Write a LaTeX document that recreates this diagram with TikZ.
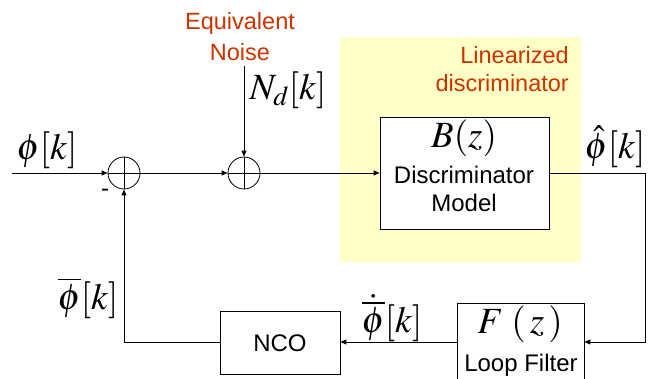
\documentclass[tikz,border=0pt]{standalone}
\usepackage{mathptmx}
\usepackage{fontspec}
\setmainfont{Liberation Sans}
\usetikzlibrary{arrows.meta}
\definecolor{noisered}{RGB}{204,51,0}
\definecolor{paleyellow}{RGB}{255,255,200}
\tikzset{
  wire/.style={line width=1pt},
  arr/.style={wire,-{Triangle[length=6pt,width=5pt]}},
  blockbox/.style={draw,line width=0.8pt,fill=white,inner sep=0pt},
  sumnode/.style={draw,line width=0.8pt,circle,minimum size=32pt,inner sep=0pt,
    path picture={\draw[line width=0.8pt] (path picture bounding box.north) -- (path picture bounding box.south)
      (path picture bounding box.west) -- (path picture bounding box.east);}},
  sanstext/.style={font=\fontsize{24}{28}\selectfont,inner sep=0pt},
  redtext/.style={font=\fontsize{23.5}{28}\selectfont,inner sep=0pt,text=noisered},
  mathlbl/.style={font=\fontsize{37}{40}\selectfont,inner sep=0pt}
}
\begin{document}
\begin{tikzpicture}[x=1pt,y=-1pt]
\useasboundingbox (0,0) rectangle (650,378);
% yellow region
\fill[paleyellow] (340,37) rectangle (581,262);
\node[redtext,anchor=east] (lin1) at (569,55) {Linearized};
\node[redtext,anchor=east] (lin2) at (569,83) {discriminator};
% blocks
\node[blockbox,minimum width=169pt,minimum height=112pt] (B) at (464.5,173) {};
\node[mathlbl] (Blbl) at (464,138) {$B(z)$};
\node[sanstext] (Bt1) at (464,175) {Discriminator};
\node[sanstext] (Bt2) at (464,203) {Model};
\node[blockbox,minimum width=127pt,minimum height=78pt] (F) at (520.5,342) {};
\node[mathlbl] (Flbl) at (520,324) {$F\;(\,z\,)$};
\node[sanstext] (Ft) at (521,365) {Loop Filter};
\node[blockbox,minimum width=120pt,minimum height=63pt] (NCO) at (280,342.5) {};
\node[sanstext] (NCOt) at (280,343) {NCO};
% summing junctions
\node[sumnode] (S1) at (124,173) {};
\node[sumnode] (S2) at (244,173) {};
% coordinates
\coordinate (in) at (12,173);
\coordinate (ntop) at (244,66);
\coordinate (rc1) at (645,173);
\coordinate (rc2) at (645,342);
\coordinate (lc) at (124,342);
% connectors
\draw[arr] (in) -- (S1.west);
\draw[arr] (S1.east) -- (S2.west);
\draw[arr] (ntop) -- (S2.north);
\draw[arr] (S2.east) -- (B.west);
\draw[arr] (B.east) -- (rc1) -- (rc2) -- (F.east |- rc2);
\draw[arr] (F.west |- rc2) -- (NCO.east |- rc2);
\draw[arr] (NCO.west |- lc) -- (lc) -- (S1.south);
% labels
\node[redtext] (eq1) at (240,23) {Equivalent};
\node[redtext] (eq2) at (240,52) {Noise};
\node[mathlbl] (nd) at (288,90) {$N_d[k]$};
\node[mathlbl] (phin) at (47,150) {$\phi[k]$};
\node[sanstext] (minus) at (105,193) {-};
\node[mathlbl] (phihat) at (615,147) {$\hat{\phi}[k]$};
\node[mathlbl] (phibar) at (88,298) {$\overline{\phi}[k]$};
\node[mathlbl] (phidot) at (392,318) {$\dot{\overline{\phi}}[k]$};
\end{tikzpicture}
\end{document}
